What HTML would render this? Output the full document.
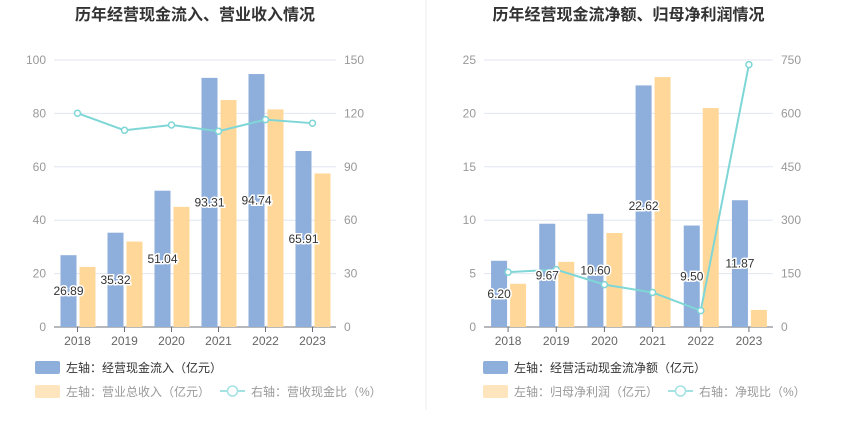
<!DOCTYPE html>
<html><head><meta charset="utf-8"><style>
body{margin:0;background:#fff;font-family:"Liberation Sans","Noto Sans CJK SC",sans-serif;}
svg text{font-family:"Liberation Sans","Noto Sans CJK SC",sans-serif;}
</style></head><body>
<svg id="s" width="850" height="437" xmlns="http://www.w3.org/2000/svg">
<line x1="426" y1="0" x2="426" y2="410" stroke="#eee"/>
</svg>
<script>
const years=["2018","2019","2020","2021","2022","2023"];
const c1Inflow=[26.89,35.32,51.04,93.31,94.74,65.91];
const c1Revenue=[22.5,32.0,45.0,85.0,81.5,57.5];
const c1Ratio=[120.1,110.5,113.5,110.0,116.5,114.5];
const c1LeftTicks=[0,20,40,60,80,100];
const c1RightTicks=[0,30,60,90,120,150];
const c2NetCash=[6.20,9.67,10.60,22.62,9.50,11.87];
const c2Profit=[4.05,6.1,8.8,23.4,20.5,1.6];
const c2Ratio=[154,161,119,97,46,737];
const c2LeftTicks=[0,5,10,15,20,25];
const c2RightTicks=[0,150,300,450,600,750];
const NS="http://www.w3.org/2000/svg";
const svg=document.getElementById('s');
function mk(t,a,txt){const e=document.createElementNS(NS,t);for(const k in a)e.setAttribute(k,a[k]);if(txt!==undefined)e.textContent=txt;svg.appendChild(e);return e;}
function chart(o){
 const top=60,bot=327,x0=o.x0,x1=o.x1,cw=(x1-x0)/years.length;
 const lmax=o.lt[o.lt.length-1],rmax=o.rt[o.rt.length-1];
 const yl=v=>bot-(v/lmax)*(bot-top), yr=v=>bot-(v/rmax)*(bot-top);
 let t=mk('text',{x:(x0+x1)/2,y:20,'text-anchor':'middle','font-size':16,'font-weight':'bold',fill:'#333'},o.title);
 
 o.lt.forEach((v,i)=>{const y=yl(v);
  if(i>0){let g=mk('line',{x1:x0,x2:x1,y1:y,y2:y,stroke:'#e0e6f1'});}
  let a=mk('text',{x:x0-8,y:y+4,'text-anchor':'end','font-size':12,fill:'#999'},v);
  let b=mk('text',{x:x1+8,y:yr(o.rt[i])+4,'font-size':12,fill:'#999'},o.rt[i]);
 });
 let ax=mk('line',{x1:x0,x2:x1,y1:bot,y2:bot,stroke:'#6e7079'});
 years.forEach((yv,i)=>{const c=x0+cw*(i+0.5);
  let tk=mk('line',{x1:c,x2:c,y1:bot,y2:bot+5,stroke:'#6e7079'});
  let l=mk('text',{x:c,y:bot+18,'text-anchor':'middle','font-size':12,fill:'#666'},yv);
  const bw=16;
  let b1=mk('rect',{x:c-bw-1,y:yl(o.a[i]),width:bw,height:bot-yl(o.a[i]),fill:'#8eaedb'});
  let b2=mk('rect',{x:c+2,y:yl(o.b[i]),width:bw,height:bot-yl(o.b[i]),fill:'#ffd899'});
 });
 let pts=o.r.map((v,i)=>[x0+cw*(i+0.5),yr(v)]);
 let pl=mk('polyline',{points:pts.map(p=>p.join(',')).join(' '),fill:'none',stroke:'#7fd6d6','stroke-width':2});
 pts.forEach(p=>{let c=mk('circle',{cx:p[0],cy:p[1],r:3,fill:'#fff',stroke:'#7fd6d6','stroke-width':1.5});});
 years.forEach((yv,i)=>{const c=x0+cw*(i+0.5)-9;
  let l=mk('text',{x:c,y:(yl(o.a[i])+bot)/2+4,'text-anchor':'middle','font-size':12,fill:'#333',stroke:'#fff','stroke-width':3,'paint-order':'stroke'},o.a[i].toFixed(2));
  });
 const lx=o.lx;
 let r1=mk('rect',{x:lx,y:361,width:25,height:13,rx:2,fill:'#8eaedb'});
 let t1=mk('text',{x:lx+31,y:372,'font-size':12,fill:'#333'},o.l1);
 let r2=mk('rect',{x:lx,y:385,width:25,height:13,rx:2,fill:'#ffe5bd'});
 let t2=mk('text',{x:lx+31,y:396,'font-size':12,fill:'#999'},o.l2);
 let ll=mk('line',{x1:o.lx3,x2:o.lx3+25,y1:391,y2:391,stroke:'#a5e2e2','stroke-width':2});
 let lc=mk('circle',{cx:o.lx3+12.5,cy:391,r:5,fill:'#fff',stroke:'#a5e2e2','stroke-width':1.5});
 let t3=mk('text',{x:o.lx3+31,y:396,'font-size':12,fill:'#999'},o.l3);
}
chart({p:'left-chart',title:'历年经营现金流入、营业收入情况',x0:54,x1:336,a:c1Inflow,b:c1Revenue,r:c1Ratio,lt:c1LeftTicks,rt:c1RightTicks,lx:35,lx3:220,l1:'左轴：经营现金流入（亿元）',l2:'左轴：营业总收入（亿元）',l3:'右轴：营收现金比（%）'});
chart({p:'right-chart',title:'历年经营现金流净额、归母净利润情况',x0:484,x1:773,a:c2NetCash,b:c2Profit,r:c2Ratio,lt:c2LeftTicks,rt:c2RightTicks,lx:483,lx3:668,l1:'左轴：经营活动现金流净额（亿元）',l2:'左轴：归母净利润（亿元）',l3:'右轴：净现比（%）'});
</script>
</body></html>
